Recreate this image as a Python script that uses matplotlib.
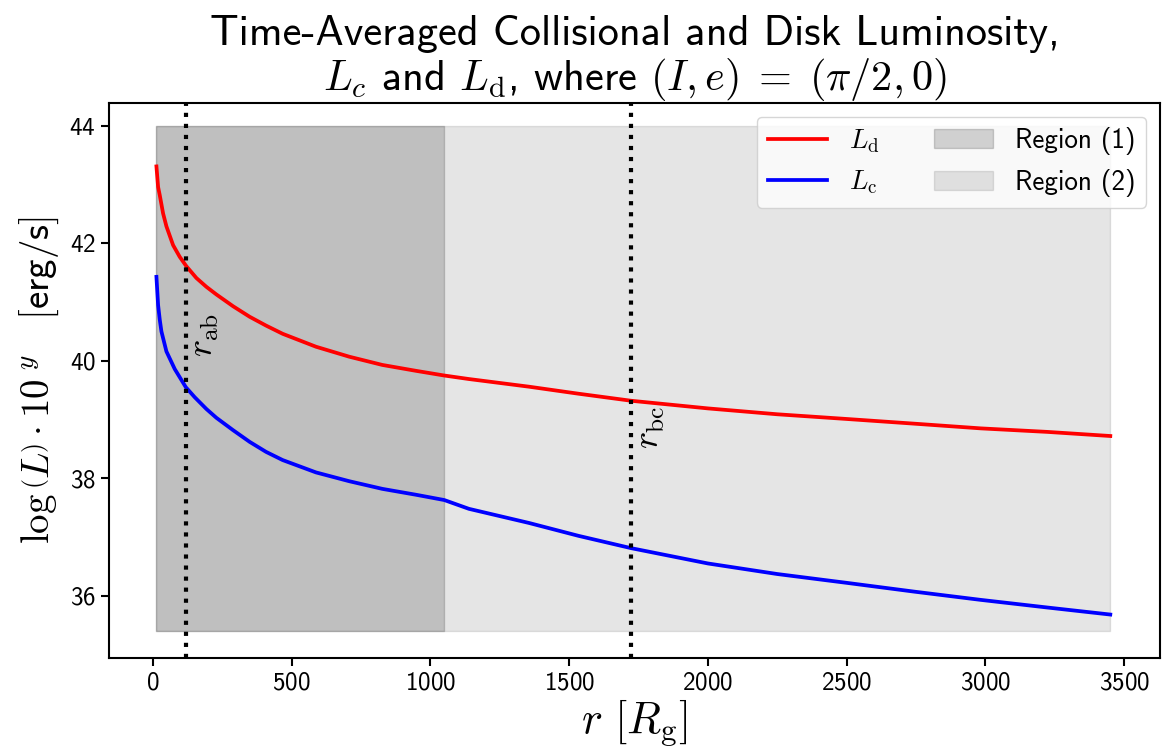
import matplotlib
matplotlib.use("Agg")
import matplotlib.pyplot as plt

plt.rcParams['mathtext.fontset'] = 'cm'
plt.rcParams['font.family'] = ['cmss10', 'DejaVu Sans']
plt.rcParams['axes.unicode_minus'] = False
plt.rcParams['axes.formatter.use_mathtext'] = True

# disk luminosity: radius [R_g] and log10 L
r_d = [13, 19, 25, 37, 49, 73, 97, 121, 157, 193, 229, 289, 349, 408, 468,
       588, 708, 827, 948, 1050, 1139, 1355, 1534, 1724, 2000, 2250, 2500,
       2744, 2983, 3223, 3450]
L_d = [43.31, 42.96, 42.82, 42.51, 42.29, 41.97, 41.77, 41.61, 41.41, 41.26,
       41.13, 40.93, 40.75, 40.60, 40.46, 40.24, 40.07, 39.93, 39.83, 39.75,
       39.69, 39.56, 39.44, 39.32, 39.19, 39.09, 39.01, 38.93, 38.85, 38.79,
       38.72]
# collisional luminosity: radius [R_g] and log10 L
r_c = [13, 19, 25, 31, 49, 79, 119, 151, 193, 229, 289, 349, 408, 468, 588,
       708, 827, 948, 1050, 1139, 1355, 1534, 1724, 2000, 2250, 2500, 2744,
       2983, 3223, 3450]
L_c = [41.43, 40.95, 40.70, 40.50, 40.16, 39.86, 39.55, 39.38, 39.18, 39.03,
       38.82, 38.62, 38.45, 38.31, 38.10, 37.95, 37.82, 37.72, 37.63, 37.48,
       37.24, 37.02, 36.81, 36.55, 36.37, 36.22, 36.07, 35.93, 35.80, 35.68]

r_ab = 120
r_bc = 1722
region1_end = 1050
fill_lo, fill_hi = 35.4, 44.0

fig = plt.figure(figsize=(11.63, 7.54), dpi=100)
ax = fig.add_axes([0.0937, 0.1273, 0.9037, 0.7361])

r1 = [x for x in r_d if x <= region1_end]
ax.fill_between(r_d, fill_lo, fill_hi, color='k', alpha=0.10, label='Region (2)', zorder=0)
ax.fill_between(r1, fill_lo, fill_hi, color='k', alpha=0.165, label='Region (1)', zorder=0)

ax.plot(r_d, L_d, color='red', lw=2.7, label=r'$L_{\rm d}$')
ax.plot(r_c, L_c, color='blue', lw=2.7, label=r'$L_{\rm c}$')

ax.axvline(r_ab, color='k', ls=':', lw=3)
ax.axvline(r_bc, color='k', ls=':', lw=3)
ax.text(187, 40.44, r'$r_{\rm ab}$', rotation=90, ha='center', va='center', fontsize=26)
ax.text(1792, 38.86, r'$r_{\rm bc}$', rotation=90, ha='center', va='center', fontsize=26)

ax.set_xlim(-158, 3629)
ax.set_ylim(34.94, 44.39)
ax.set_xticks([0, 500, 1000, 1500, 2000, 2500, 3000, 3500])
ax.set_yticks([36, 38, 40, 42, 44])
ax.tick_params(labelsize=18, width=1.5, length=6)
for s in ax.spines.values():
    s.set_linewidth(1.5)

ax.set_xlabel(r'$r\ [R_{\rm g}]$', fontsize=32, labelpad=2)
ax.set_ylabel(r'$\log\left(L\right)\cdot10^{\ y}\quad[$erg/s$]$', fontsize=28, labelpad=6)
ax.set_title('Time-Averaged Collisional and Disk Luminosity,\n'
             r'$L_c$ and $L_{\rm d}$, where $(I, e)\;=\;(\pi/2, 0)$',
             fontsize=30.5, pad=4, linespacing=1.1)

h, l = ax.get_legend_handles_labels()
order = [2, 3, 1, 0]
ax.legend([h[i] for i in order], [l[i] for i in order], ncol=2, loc='upper right',
          fontsize=19.5, handlelength=2.2, columnspacing=2.0, labelspacing=0.5)

fig.savefig('out.png', dpi=100)
